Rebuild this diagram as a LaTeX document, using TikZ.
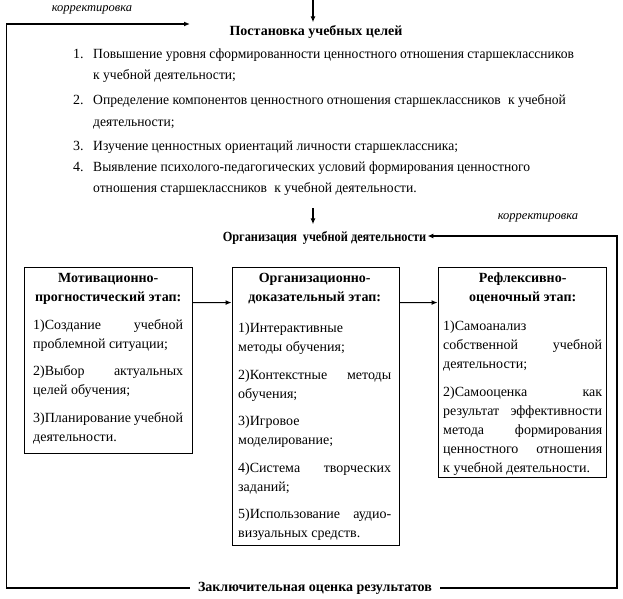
\documentclass[tikz,border=0pt]{standalone}
\usepackage{fontspec}
\usepackage{graphicx}
\setmainfont{Liberation Serif}
\usetikzlibrary{arrows.meta}
\begin{document}
\begin{tikzpicture}[x=1bp,y=-1bp,
  txt/.style={inner sep=0pt, font=\fontsize{14bp}{19bp}\selectfont},
  head/.style={inner sep=0pt, font=\fontsize{14bp}{19bp}\selectfont\bfseries},
  kor/.style={inner sep=0pt, font=\fontsize{12.5bp}{15bp}\selectfont\itshape},
  stagebox/.style={draw, line width=0.9bp, inner sep=0pt},
  arr/.style={line width=1.1bp, -{Latex[length=6bp,width=5bp]}},
  frameline/.style={line width=1.4bp, -{Latex[length=6bp,width=5bp]}},
]
\useasboundingbox (0,0) rectangle (623,599);

% coordinates for the free ends and corners
\coordinate (topin) at (313,0);
\coordinate (listout) at (313,208);
\coordinate (cTL) at (6.5,24);
\coordinate (korTip) at (190,24);
\coordinate (cTR) at (617,236);

% titles
\node[head, anchor=base, inner ysep=3bp] (goals) at (316,35.5) {Постановка учебных целей};
\node[head, anchor=base, inner ysep=7bp, inner xsep=1bp] (org) at (324.5,241.5) {\scalebox{0.88}[1]{Организация\hspace{3bp} учебной деятельности}};
\node[head, anchor=base, inner xsep=8bp] (final) at (315,591) {Заключительная оценка результатов};

% correction labels
\node[kor, anchor=base] (kor1) at (92,11.5) {корректировка};
\node[kor, anchor=base] (kor2) at (538,219.5) {корректировка};

% numbered list
\node[txt, anchor=base west] (n1) at (73,58.5) {1.};
\node[txt, anchor=base west] (i1) at (93,58.5) {\scalebox{0.97}[1]{\parbox[t]{520bp}{\raggedright\fontsize{14bp}{21bp}\selectfont
Повышение уровня сформированности ценностного отношения старшеклассников\\к учебной деятельности;}}};
\node[txt, anchor=base west] (n2) at (73,104.5) {2.};
\node[txt, anchor=base west] (i2) at (93,104.5) {\scalebox{0.97}[1]{\parbox[t]{520bp}{\raggedright\fontsize{14bp}{22bp}\selectfont
Определение компонентов ценностного отношения старшеклассников\hspace{4bp} к учебной\\деятельности;}}};
\node[txt, anchor=base west] (n3) at (73,150.5) {3.};
\node[txt, anchor=base west] (i3) at (93,150.5) {\scalebox{0.97}[1]{Изучение ценностных ориентаций личности старшеклассника;}};
\node[txt, anchor=base west] (n4) at (73,171.5) {4.};
\node[txt, anchor=base west] (i4) at (93,171.5) {\scalebox{0.97}[1]{\parbox[t]{520bp}{\raggedright\fontsize{14bp}{20.5bp}\selectfont
Выявление психолого-педагогических условий формирования ценностного\\отношения старшеклассников\hspace{4bp} к учебной деятельности.}}};

% stage boxes
\node[stagebox, minimum width=168bp, minimum height=186bp] (b1) at (108,360) {};
\node[stagebox, minimum width=167bp, minimum height=278bp] (b2) at (315.5,406) {};
\node[stagebox, minimum width=168bp, minimum height=210bp] (b3) at (522,372) {};

\node[txt, anchor=base west] (t1) at (33,282) {\parbox[t]{150bp}{\setlength{\parskip}{8.5bp}%
{\centering\bfseries Мотивационно-\\прогностический этап:\par}
\vspace{0.5bp}1)Создание\hfill учебной\\проблемной ситуации;\par
2)Выбор\hfill актуальных\\целей обучения;\par
3)Планирование\hfill учебной\\деятельности.}};

\node[txt, anchor=base west] (t2) at (238,282) {\parbox[t]{153bp}{\setlength{\parskip}{8.5bp}%
{\centering\bfseries Организационно-\\доказательный этап:\par}
\vspace{4bp}1)Интерактивные\\методы обучения;\par
2)Контекстные\hfill методы\\обучения;\par
3)Игровое\\моделирование;\par
4)Система\hfill творческих\\заданий;\par
5)Использование\hfill аудио-\\визуальных средств.}};

\node[txt, anchor=base west] (t3) at (443,282) {\parbox[t]{159bp}{\setlength{\parskip}{8.5bp}%
{\centering\bfseries Рефлексивно-\\оценочный этап:\par}
\vspace{2bp}1)Самоанализ\\собственной\hfill учебной\\деятельности;\par
2)Самооценка\hfill как\\результат\hfill эффективности\\метода\hfill формирования\\ценностного\hfill отношения\\к учебной деятельности.}};

% connectors
\draw[arr] (topin) -- (topin |- goals.north);
\draw[arr] (listout) -- (listout |- org.north);
\draw[arr] ([yshift=-36bp]b1.north east) -- ([yshift=-36bp]b2.north west);
\draw[arr] ([yshift=-36bp]b2.north east) -- ([yshift=-36bp]b3.north west);
\draw[frameline] (final.west) -| (cTL) -- (korTip);
\draw[frameline] (final.east) -| (cTR) -- (org.east |- cTR);
\end{tikzpicture}
\end{document}
